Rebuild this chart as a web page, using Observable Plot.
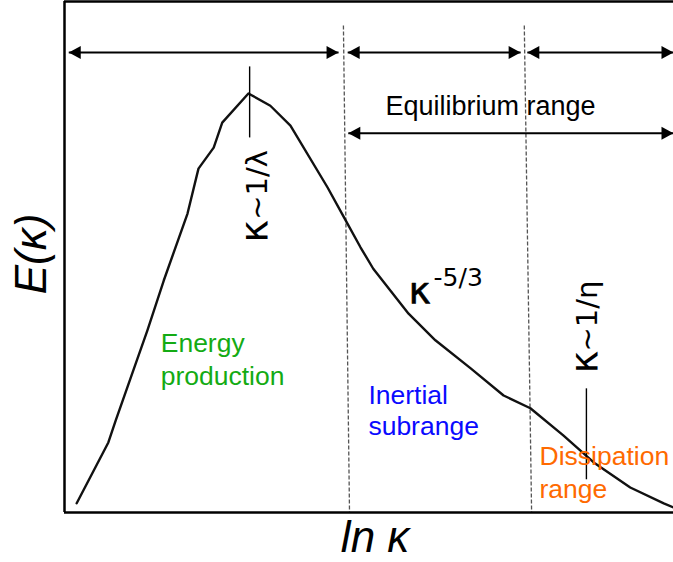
<!DOCTYPE html>
<html><head><meta charset="utf-8">
<script src="https://cdn.jsdelivr.net/npm/d3@7"></script>
<script src="https://cdn.jsdelivr.net/npm/@observablehq/plot@0.6"></script>
<style>body{margin:0;background:#fff} #chart svg{display:block}</style>
</head><body><div id="chart"></div>
<script>
// Energy spectrum E(κ) versus ln κ (arbitrary units, 0–10 on both axes)
const lnK = [0.20, 0.72, 0.84, 1.13, 1.36, 1.63, 2.02, 2.20, 2.45, 2.59, 3.02, 3.38, 3.71, 4.32, 4.61, 4.86, 5.07, 5.65, 6.09, 6.67, 7.21, 7.65, 8.19, 8.69, 9.29, 9.84, 10.0];
const energy = [0.18, 1.37, 1.80, 2.78, 3.56, 4.54, 5.85, 6.73, 7.14, 7.63, 8.20, 7.96, 7.57, 6.36, 5.73, 5.19, 4.77, 3.89, 3.37, 2.82, 2.29, 2.04, 1.51, 0.98, 0.49, 0.18, 0.10];

// range boundaries (dashed): position at top and bottom of the frame
const boundaryTopX = [4.58, 7.55];
const boundaryBottomX = [4.68, 7.67];
const boundaryTopY = 9.53;

// double-headed range arrows
const spanFrom = [0.07, 4.65, 7.60, 4.66];
const spanTo = [4.50, 7.49, 10.0, 10.0];
const spanLevel = [9.0, 9.0, 9.0, 7.42];

// characteristic wavenumber markers
const markerX = [3.04, 8.57];
const markerTop = [8.73, 2.43];
const markerBottom = [7.34, 0.65];
const markerSymbol = ["κ", "κ"];
const markerRest = ["~1/λ", "~1/η"];
const markerLabelX = [3.33, 8.75];
const markerSymbolY = [5.28, 2.72];
const markerRestY = [5.73, 3.15];

// region labels
const regionLines = ["Energy", "production", "Inertial", "subrange", "Dissipation", "range"];
const regionKeys = ["production", "production", "inertial", "inertial", "dissipation", "dissipation"];
const regionX = [1.58, 1.58, 4.99, 4.99, 7.80, 7.80];
const regionY = [3.14, 2.49, 2.13, 1.51, 0.92, 0.29];

const equilibriumLabel = {text: "Equilibrium range", x: 5.27, y: 7.77};
const slopeBase = {text: "κ", x: 5.65, y: 4.09};
const slopeExponent = {text: "-5/3", x: 6.06, y: 4.44};
const axisTitles = [
  {text: "E(κ)", x: -0.31, y: 5.06, rotate: -90},
  {text: "ln κ", x: 5.10, y: -0.78, rotate: 0}
];

const curve = lnK.map((x, i) => ({x, e: energy[i]}));
const boundaries = boundaryTopX.map((x, i) => ({x1: x, x2: boundaryBottomX[i], y1: boundaryTopY, y2: 0}));
const spans = spanFrom.map((f, i) => ({from: f, to: spanTo[i], level: spanLevel[i]}));
const markers = markerX.map((x, i) => ({
  x, top: markerTop[i], bottom: markerBottom[i],
  sym: markerSymbol[i], rest: markerRest[i],
  lx: markerLabelX[i], sy: markerSymbolY[i], ry: markerRestY[i]
}));
const regions = regionLines.map((t, i) => ({text: t, key: regionKeys[i], x: regionX[i], y: regionY[i]}));

const headRight = {draw(ctx) { ctx.moveTo(0, 0); ctx.lineTo(-12, -6.5); ctx.lineTo(-12, 6.5); ctx.closePath(); }};
const headLeft = {draw(ctx) { ctx.moveTo(0, 0); ctx.lineTo(12, -6.5); ctx.lineTo(12, 6.5); ctx.closePath(); }};

const sans = "'Liberation Sans', Arial, Helvetica, sans-serif";
const deja = "'DejaVu Sans', sans-serif";

const chart = Plot.plot({
  width: 673,
  height: 562,
  marginLeft: 64,
  marginRight: 0,
  marginTop: 1,
  marginBottom: 50,
  x: {domain: [0, 10], axis: null},
  y: {domain: [0, 10], axis: null},
  color: {domain: ["production", "inertial", "dissipation"], range: ["#14ab14", "#0a0aff", "#ff6a00"]},
  style: {fontFamily: sans, background: "white", color: "black"},
  marks: [
    Plot.link(boundaries, {x1: "x1", x2: "x2", y1: "y1", y2: "y2", stroke: "#555", strokeWidth: 1.3, strokeDasharray: "4,2"}),
    Plot.ruleX([0], {stroke: "black", strokeWidth: 2.5}),
    Plot.ruleY([0], {stroke: "black", strokeWidth: 2.5}),
    Plot.ruleY([10], {stroke: "black", strokeWidth: 2.5}),
    Plot.link(spans, {x1: "from", x2: "to", y1: "level", y2: "level", stroke: "black", strokeWidth: 2}),
    Plot.dot(spans, {x: "from", y: "level", symbol: headLeft, fill: "black", stroke: "none"}),
    Plot.dot(spans, {x: "to", y: "level", symbol: headRight, fill: "black", stroke: "none"}),
    Plot.line(curve, {x: "x", y: "e", stroke: "#111", strokeWidth: 2.4, curve: "linear"}),
    Plot.link(markers, {x1: "x", x2: "x", y1: "top", y2: "bottom", stroke: "black", strokeWidth: 1.4}),
    Plot.text(markers, {x: "lx", y: "sy", text: "sym", rotate: -90, textAnchor: "start", lineAnchor: "bottom", fontSize: 39, fontFamily: deja, fill: "black"}),
    Plot.text(markers, {x: "lx", y: "ry", text: "rest", rotate: -90, textAnchor: "start", lineAnchor: "bottom", fontSize: 29, fontFamily: deja, fill: "black"}),
    Plot.text(regions, {x: "x", y: "y", text: "text", fill: "key", textAnchor: "start", lineAnchor: "bottom", fontSize: 26.5}),
    Plot.text([equilibriumLabel], {x: "x", y: "y", text: "text", textAnchor: "start", lineAnchor: "bottom", fontSize: 27, fill: "black"}),
    Plot.text([slopeBase], {x: "x", y: "y", text: "text", textAnchor: "start", lineAnchor: "bottom", fontSize: 38, fontFamily: deja, fill: "black", stroke: "black", strokeWidth: 0.6}),
    Plot.text([slopeExponent], {x: "x", y: "y", text: "text", textAnchor: "start", lineAnchor: "bottom", fontSize: 25, fontFamily: deja, fill: "black"}),
    Plot.text(axisTitles, {x: "x", y: "y", text: "text", rotate: "rotate", textAnchor: "middle", lineAnchor: "bottom", fontSize: 44, fontStyle: "italic", fill: "black"})
  ]
});
document.getElementById("chart").appendChild(chart);
</script>
</body></html>
